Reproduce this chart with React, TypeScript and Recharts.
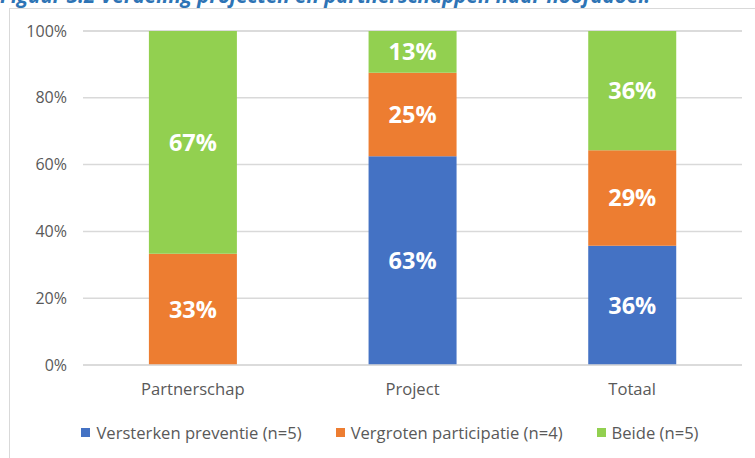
import React from 'react';
import { BarChart, Bar, XAxis, YAxis, CartesianGrid, Legend, LabelList } from 'recharts';

const categories = ['Partnerschap', 'Project', 'Totaal'];
const preventie = [0, 62.5, 35.7];
const participatie = [33.3, 25, 28.6];
const beide = [66.7, 12.5, 35.7];
const yTicks = [0, 20, 40, 60, 80, 100];

const series = [
    { key: 'preventie', name: 'Versterken preventie (n=5)', color: '#4472C4' },
    { key: 'participatie', name: 'Vergroten participatie (n=4)', color: '#ED7D31' },
    { key: 'beide', name: 'Beide (n=5)', color: '#92D050' },
];

const data = categories.map((name, i) => ({
    name,
    preventie: preventie[i],
    participatie: participatie[i],
    beide: beide[i],
}));

const font = "'Open Sans', 'Noto Sans', sans-serif";

const fmtLabel = (v: any) => (v ? `${Math.round(v)}%` : '');

function LegendBox() {
    return (
        <div style={{ display: 'flex', justifyContent: 'center', fontFamily: font, fontSize: 16.6, color: '#595959', marginLeft: 38, paddingTop: 3 }}>
            {series.map(s => (
                <div key={s.key} style={{ display: 'flex', alignItems: 'center', margin: '0 17px' }}>
                    <span style={{ display: 'inline-block', width: 9, height: 9, background: s.color, marginRight: 6 }} />
                    <span>{s.name}</span>
                </div>
            ))}
        </div>
    );
}

export default function App() {
    return (
        <div style={{ position: 'fixed', left: 0, top: 0, width: 755, height: 458, overflow: 'hidden', background: '#fff', fontFamily: font }}>
            <div style={{ position: 'absolute', left: 0, top: -19, whiteSpace: 'nowrap', color: '#2E74B5', fontWeight: 700, fontStyle: 'italic', fontSize: 20.5 }}>
                Figuur 3.2 Verdeling projecten en partnerschappen naar hoofddoel.
            </div>
            <div style={{ position: 'absolute', left: 9, top: 8, width: 800, height: 500, border: '1px solid #D9D9D9' }} />
            <div style={{ position: 'absolute', left: 0, top: 0 }}>
                <BarChart width={755} height={458} data={data}
                    margin={{ top: 31, right: 13, left: 0, bottom: 0 }}
                    barCategoryGap="30%">
                    <CartesianGrid vertical={false} stroke="#D9D9D9" strokeWidth={1.5} />
                    <XAxis dataKey="name" height={53} axisLine={{ stroke: '#D9D9D9', strokeWidth: 1.5 }} tickLine={false}
                        tick={{ fill: '#595959', fontSize: 16.6, fontFamily: font }} tickMargin={12} />
                    <YAxis width={83} domain={[0, 100]} ticks={yTicks} tickFormatter={t => `${t}%`}
                        axisLine={false} tickLine={false} tickSize={0} tickMargin={16}
                        tick={{ fill: '#595959', fontSize: 16, fontFamily: font }} />
                    <Legend verticalAlign="bottom" height={40} content={() => <LegendBox />} />
                    {series.map(s => (
                        <Bar key={s.key} dataKey={s.key} name={s.name} stackId="a" fill={s.color} isAnimationActive={false}>
                            <LabelList dataKey={s.key} position="center" formatter={fmtLabel} fill="#fff" fontSize={23.5} fontWeight={700} fontFamily={font} />
                        </Bar>
                    ))}
                </BarChart>
            </div>
        </div>
    );
}
